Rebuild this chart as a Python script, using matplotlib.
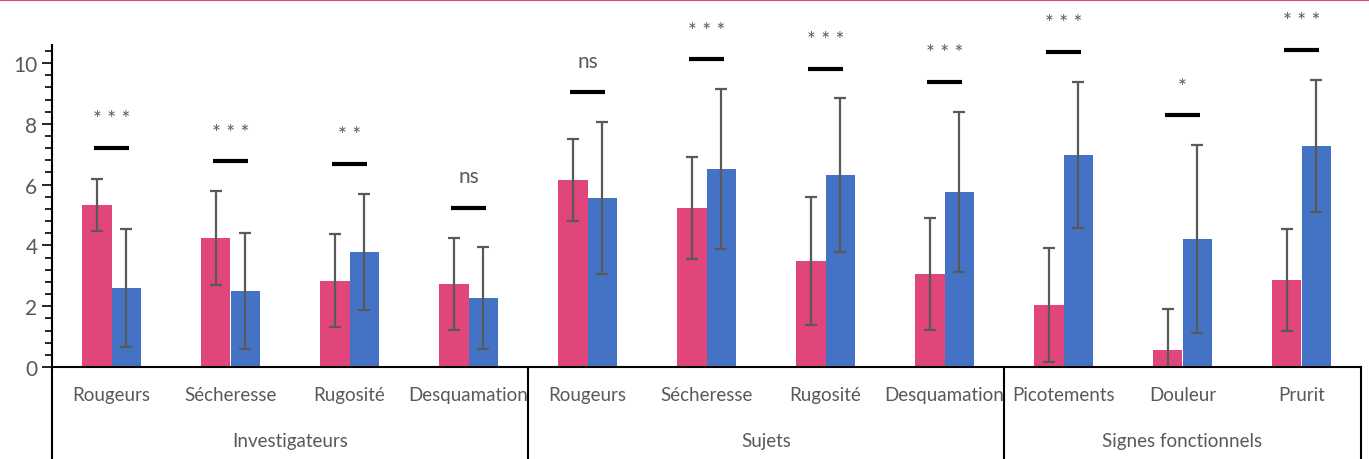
import numpy as np
import matplotlib.pyplot as plt
from matplotlib.lines import Line2D
import matplotlib.transforms as mtransforms
from matplotlib.ticker import MultipleLocator

plt.rcParams['font.family'] = ['Lato', 'DejaVu Sans']

categories = ['Rougeurs', 'Sécheresse', 'Rugosité', 'Desquamation',
              'Rougeurs', 'Sécheresse', 'Rugosité', 'Desquamation',
              'Picotements', 'Douleur', 'Prurit']
groups = ['Investigateurs', 'Sujets', 'Signes fonctionnels']
group_sizes = [4, 4, 3]

pink_vals = [5.33, 4.24, 2.83, 2.73, 6.15, 5.23, 3.49, 3.06, 2.04, 0.56, 2.86]
pink_err = [0.87, 1.54, 1.53, 1.50, 1.35, 1.68, 2.10, 1.83, 1.86, 1.35, 1.69]
blue_vals = [2.60, 2.50, 3.78, 2.27, 5.56, 6.51, 6.32, 5.76, 6.97, 4.21, 7.27]
blue_err = [1.95, 1.91, 1.92, 1.69, 2.50, 2.63, 2.52, 2.63, 2.41, 3.08, 2.17]

sig_labels = ['* * *', '* * *', '* *', 'ns', 'ns', '* * *', '* * *', '* * *',
              '* * *', '*', '* * *']
sig_line_y = [7.20, 6.79, 6.69, 5.23, 9.04, 10.12, 9.80, 9.38, 10.38, 8.28, 10.44]
sig_text_y = [8.45, 8.01, 7.94, 6.28, 10.08, 11.34, 11.05, 10.63, 11.61, 9.50, 11.69]

pink = '#E0457B'
blue = '#4472C4'
grey = '#595959'

fig = plt.figure(figsize=(13.69, 4.60), dpi=100)
ax = fig.add_axes([52 / 1369, 0.2, 1309 / 1369, 0.7004])

x = np.arange(len(categories))
w = 0.245
ekw = dict(ecolor=grey, elinewidth=1.6, capsize=4.5, capthick=1.6)
ax.bar(x - w / 2, pink_vals, w, color=pink, yerr=pink_err, error_kw=ekw, zorder=2)
ax.bar(x + w / 2, blue_vals, w, color=blue, yerr=blue_err, error_kw=ekw, zorder=2)

# significance markers
ax.hlines(sig_line_y, x - 0.15, x + 0.15, colors='black', linewidth=3, clip_on=False)
for xi, lab, ty in zip(x, sig_labels, sig_text_y):
    if lab == 'ns':
        ax.text(xi, ty, lab, ha='center', va='center', fontsize=15, color=grey)
    else:
        ax.text(xi, ty - 0.3, lab, ha='center', va='center', fontsize=15, color=grey)

ax.set_xlim(-0.5, len(categories) - 0.5)
ax.set_ylim(0, 10.6)
ax.yaxis.set_major_locator(MultipleLocator(2))
ax.yaxis.set_minor_locator(MultipleLocator(0.4))
ax.tick_params(axis='y', which='major', length=7, width=1.2, labelsize=15,
               labelcolor=grey, color='black')
ax.tick_params(axis='y', which='minor', length=5, width=1.2, color='black')
ax.set_xticks([])
for s in ['top', 'right']:
    ax.spines[s].set_visible(False)
ax.spines['left'].set_linewidth(1.5)
ax.spines['bottom'].set_linewidth(1.5)

# multi-level category axis
trans = mtransforms.blended_transform_factory(ax.transData, ax.transAxes)
for xi, name in zip(x, categories):
    ax.text(xi, -28 / 322.2, name, transform=trans, ha='center', va='center',
            fontsize=13.5, color=grey)
start = -0.5
bounds = [start]
for g, n in zip(groups, group_sizes):
    mid = start + n / 2
    ax.text(mid, -74 / 322.2, g, transform=trans, ha='center', va='center',
            fontsize=13.5, color=grey)
    start += n
    bounds.append(start)
for b in bounds:
    ax.plot([b, b], [0, -0.35], transform=trans, color='black', linewidth=1.5,
            clip_on=False)

# thin pink rule at the very top of the figure
fig.add_artist(Line2D([0, 1], [0.997, 0.997], color=pink, linewidth=1.5))

fig.savefig('out.png', dpi=100)
